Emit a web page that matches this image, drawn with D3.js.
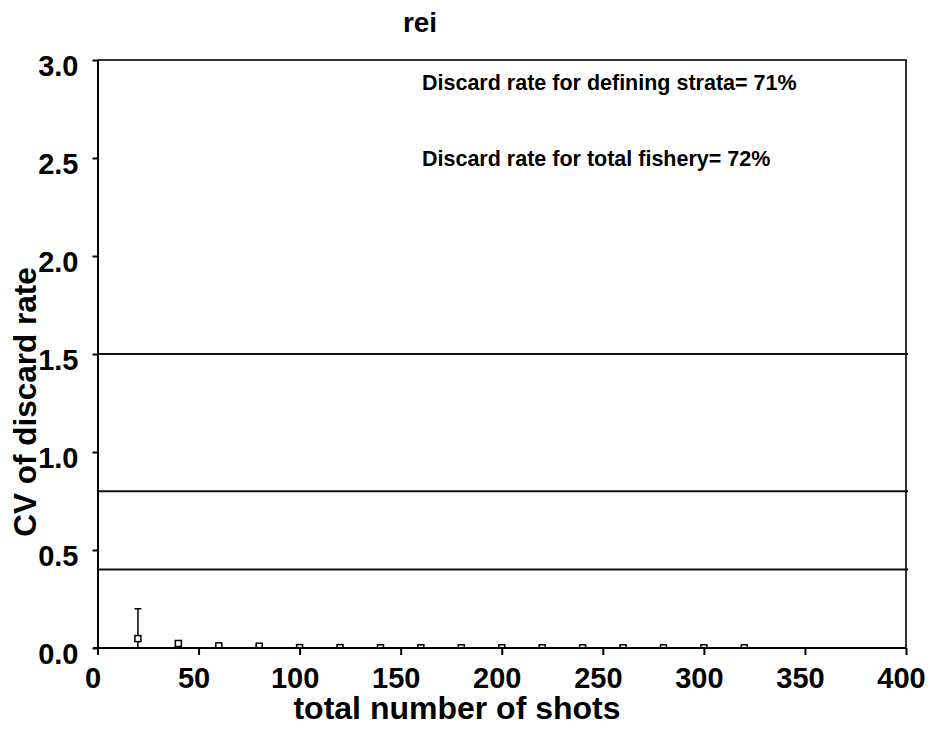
<!DOCTYPE html>
<html>
<head>
<meta charset="utf-8">
<script src="https://cdn.jsdelivr.net/npm/d3@7/dist/d3.min.js"></script>
<style>
  html, body { margin: 0; padding: 0; background: #fff; }
  svg text { font-family: "Liberation Sans", Arial, sans-serif; font-weight: bold; fill: #000; }
</style>
</head>
<body>
<svg id="chart" width="931" height="733"></svg>
<script>
// Sample sizes (total number of shots) and the CV of the discard rate at each
const shots  = [20, 40, 60, 80, 100, 120, 140, 160, 180, 200, 220, 240, 260, 280, 300, 320];
const cv     = [0.048, 0.023, 0.011, 0.009, 0.002, 0.002, 0.001, 0.001, 0.001, 0.001, 0.001, 0.001, 0.001, 0.001, 0.001, 0.001];
const cvLow  = [0.000, 0.010, 0.007, 0.006, 0.001, 0.001, 0.000, 0.000, 0.000, 0.000, 0.000, 0.000, 0.000, 0.000, 0.000, 0.000];
const cvHigh = [0.200, 0.036, 0.016, 0.013, 0.003, 0.003, 0.002, 0.002, 0.002, 0.002, 0.002, 0.002, 0.002, 0.002, 0.002, 0.002];

// Reference CV thresholds
const refLines = [1.5, 0.8, 0.4];

const xTicks = [0, 50, 100, 150, 200, 250, 300, 350, 400];
const yTicks = [0, 0.5, 1.0, 1.5, 2.0, 2.5, 3.0];

const titleText = "rei";
const xTitle = "total number of shots";
const yTitle = "CV of discard rate";
const notes = ["Discard rate for defining strata= 71%", "Discard rate for total fishery= 72%"];

const svg = d3.select("#chart");

const plotL = 97.5, plotR = 906, plotT = 60, plotB = 648;

const x = d3.scaleLinear().domain([0, 400]).range([plotL, plotR]);
const y = d3.scaleLinear().domain([0, 3]).range([plotB, plotT]);

// plot clip region
svg.append("defs").append("clipPath").attr("id", "plotClip")
  .append("rect").attr("x", plotL).attr("y", plotT).attr("width", plotR - plotL).attr("height", plotB - plotT);

// frame: top and right edges
svg.append("path")
  .attr("d", `M${plotL},${plotT}H${plotR}V${plotB}`)
  .attr("fill", "none").attr("stroke", "#333").attr("stroke-width", 2);

// reference lines
svg.append("g").selectAll("line").data(refLines).join("line")
  .attr("x1", plotL).attr("x2", plotR + 2)
  .attr("y1", d => y(d)).attr("y2", d => y(d))
  .attr("stroke", "#111").attr("stroke-width", 2);

// error bars and markers
const pts = shots.map((s, i) => ({ s, v: cv[i], lo: cvLow[i], hi: cvHigh[i] }));
const marks = svg.append("g").attr("clip-path", "url(#plotClip)");

marks.selectAll("line.err").data(pts).join("line").attr("class", "err")
  .attr("x1", d => x(d.s)).attr("x2", d => x(d.s))
  .attr("y1", d => y(d.lo)).attr("y2", d => y(d.hi))
  .attr("stroke", "#000").attr("stroke-width", 1.5);

marks.selectAll("line.capHi").data(pts).join("line").attr("class", "capHi")
  .attr("x1", d => x(d.s) - 3.5).attr("x2", d => x(d.s) + 3.5)
  .attr("y1", d => y(d.hi)).attr("y2", d => y(d.hi))
  .attr("stroke", "#000").attr("stroke-width", 1.5);

marks.selectAll("line.capLo").data(pts).join("line").attr("class", "capLo")
  .attr("x1", d => x(d.s) - 3.5).attr("x2", d => x(d.s) + 3.5)
  .attr("y1", d => y(d.lo)).attr("y2", d => y(d.lo))
  .attr("stroke", "#000").attr("stroke-width", 1.5);

marks.selectAll("rect.pt").data(pts).join("rect").attr("class", "pt")
  .attr("x", d => x(d.s) - 3).attr("y", d => y(d.v) - 3)
  .attr("width", 6).attr("height", 6)
  .attr("fill", "#fff").attr("stroke", "#000").attr("stroke-width", 1.5);

// x axis
const xAxis = svg.append("g")
  .attr("transform", `translate(0,${plotB})`)
  .call(d3.axisBottom(x).tickValues(xTicks).tickFormat(d3.format("d")).tickSize(7).tickSizeOuter(0).tickPadding(13));
xAxis.select(".domain").attr("stroke", "#000").attr("stroke-width", 2)
  .attr("d", `M${plotL - 4},0H${plotR}`);
xAxis.selectAll(".tick line").attr("stroke", "#000").attr("stroke-width", 2);
xAxis.selectAll(".tick text").attr("font-size", 29).attr("dy", "20").attr("dx", -5);
xAxis.attr("font-family", null).attr("font-size", null);

// y axis
const yAxis = svg.append("g")
  .attr("transform", `translate(${plotL},0)`)
  .call(d3.axisLeft(y).tickValues(yTicks).tickFormat(d3.format(".1f")).tickSize(5).tickSizeOuter(0).tickPadding(14));
yAxis.select(".domain").attr("stroke", "#000").attr("stroke-width", 2);
yAxis.selectAll(".tick line").attr("stroke", "#000").attr("stroke-width", 2);
yAxis.selectAll(".tick text").attr("font-size", 29).attr("dy", "15");
yAxis.attr("font-family", null).attr("font-size", null);

// title
svg.append("text").attr("x", 420).attr("y", 32).attr("text-anchor", "middle")
  .attr("font-size", 28).text(titleText);

// axis titles
svg.append("text").attr("x", 457).attr("y", 719).attr("text-anchor", "middle")
  .attr("font-size", 32).text(xTitle);

svg.append("text").attr("transform", "translate(36,402) rotate(-90)")
  .attr("text-anchor", "middle").attr("font-size", 31.5).text(yTitle);

// annotations
svg.append("g").selectAll("text").data(notes).join("text")
  .attr("x", 422).attr("y", (d, i) => 90 + i * 76)
  .attr("font-size", 21.5).text(d => d);
</script>
</body>
</html>
